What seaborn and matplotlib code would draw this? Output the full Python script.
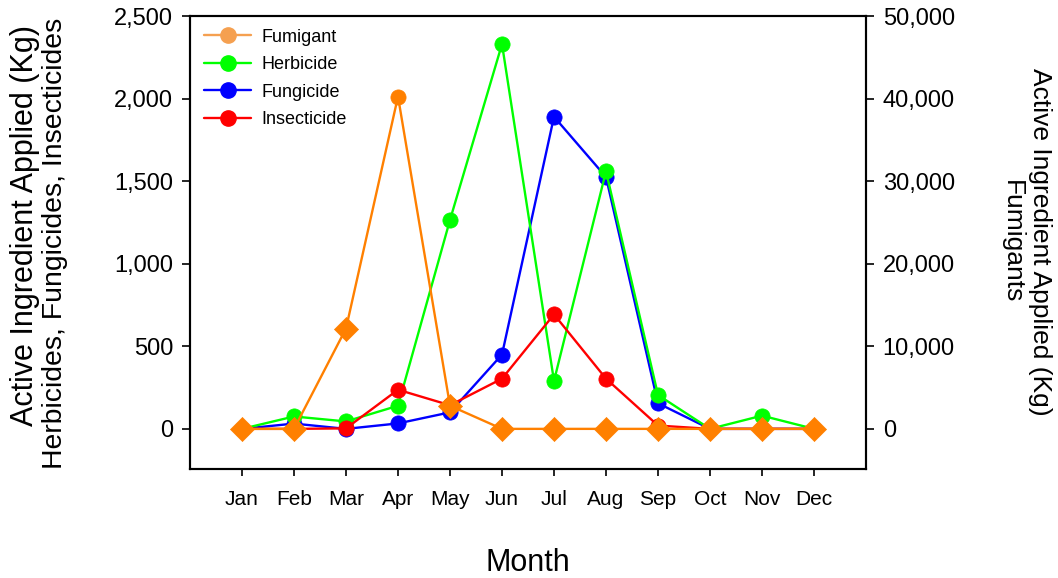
import matplotlib
matplotlib.use('Agg')
import matplotlib.pyplot as plt
import seaborn as sns
import pandas as pd
from matplotlib.lines import Line2D
from matplotlib.ticker import FuncFormatter, MultipleLocator

months = ['Jan', 'Feb', 'Mar', 'Apr', 'May', 'Jun', 'Jul', 'Aug', 'Sep', 'Oct', 'Nov', 'Dec']
herbicide = [0, 75, 45, 140, 1265, 2330, 290, 1560, 205, 0, 80, 0]
fungicide = [0, 32, 0, 33, 100, 450, 1890, 1525, 155, 0, 0, 0]
insecticide = [0, 0, 3, 237, 143, 304, 693, 304, 20, 0, 0, 0]
fumigant = [0, 0, 12150, 40250, 2800, 0, 0, 0, 0, 0, 0, 0]
fumigant_marker = ['D', 'D', 'D', 'o', 'D', 'D', 'D', 'D', 'D', 'D', 'D', 'D']

sns.set_style('ticks')
plt.rcParams['font.family'] = ['Liberation Sans', 'DejaVu Sans']
plt.rcParams['axes.linewidth'] = 1.5
plt.rcParams['text.color'] = 'black'
plt.rcParams['axes.labelcolor'] = 'black'
plt.rcParams['xtick.color'] = 'black'
plt.rcParams['ytick.color'] = 'black'

df = pd.DataFrame({'idx': range(len(months)), 'month': months,
                   'Herbicide': herbicide, 'Fungicide': fungicide,
                   'Insecticide': insecticide, 'Fumigant': fumigant,
                   'fmark': fumigant_marker})

fig = plt.figure(figsize=(10.58, 5.78), dpi=100)
ax = fig.add_axes([190/1058, 1-469/578, (866-190)/1058, (469-16)/578])
ax2 = ax.twinx()

colors = {'Fungicide': '#0000ff', 'Herbicide': '#00ff00', 'Insecticide': '#ff0000'}
for name in ['Fungicide', 'Herbicide', 'Insecticide']:
    sns.lineplot(data=df, x='idx', y=name, ax=ax, color=colors[name], linewidth=1.7,
                 marker='o', markersize=11, markeredgecolor=colors[name], markeredgewidth=0.5)

orange = '#ff8000'
sns.lineplot(data=df, x='idx', y='Fumigant', ax=ax2, color=orange, linewidth=1.7)
for mk, s in [('D', 150), ('o', 120)]:
    sub = df[df['fmark'] == mk]
    sns.scatterplot(data=sub, x='idx', y='Fumigant', ax=ax2, color=orange, marker=mk,
                    s=s, edgecolor=orange, linewidth=0.5, zorder=5)

ax.set_xlim(-1, 12)
ax.set_ylim(-243, 2500)
ax2.set_ylim(-4860, 50000)
ax.set_xticks(range(len(months)))
ax.set_xticklabels(months)
ax.yaxis.set_major_locator(MultipleLocator(500))
ax2.yaxis.set_major_locator(MultipleLocator(10000))
fmt = FuncFormatter(lambda v, p: f'{int(v):,}')
ax.yaxis.set_major_formatter(fmt)
ax2.yaxis.set_major_formatter(fmt)

ax.tick_params(axis='y', labelsize=17, length=6, width=1.2, direction='out', pad=6)
ax2.tick_params(axis='y', labelsize=17, length=6, width=1.2, direction='out', pad=6)
ax.tick_params(axis='x', labelsize=15, length=5, width=1.2, direction='out', pad=10)

ax.set_xlabel('Month', fontsize=22, labelpad=28)
ax.set_ylabel('')
ax2.set_ylabel('')

# y-axis titles (two lines each, sized individually as in the reference)
fig.text(25/1058, 1-225/578, 'Active Ingredient Applied (Kg)', rotation=90,
         ha='center', va='center', fontsize=22)
fig.text(55/1058, 1-243/578, 'Herbicides, Fungicides, Insecticides', rotation=90,
         ha='center', va='center', fontsize=20.4)
fig.text(1040/1058, 1-242/578, 'Active Ingredient Applied (Kg)', rotation=270,
         ha='center', va='center', fontsize=19)
fig.text(1012/1058, 1-242/578, 'Fumigants', rotation=270,
         ha='center', va='center', fontsize=19)

for a in (ax, ax2):
    for sp in a.spines.values():
        sp.set_visible(True)
        sp.set_linewidth(1.5)
        sp.set_color('black')

handles = [
    Line2D([], [], color='#f5a050', marker='o', markersize=11, linewidth=1.7),
    Line2D([], [], color='#00ff00', marker='o', markersize=11, linewidth=1.7),
    Line2D([], [], color='#0000ff', marker='o', markersize=11, linewidth=1.7),
    Line2D([], [], color='#ff0000', marker='o', markersize=11, linewidth=1.7),
]
labels = ['Fumigant', 'Herbicide', 'Fungicide', 'Insecticide']
ax2.legend(handles, labels, loc='upper left', bbox_to_anchor=(-0.003, 1.008), frameon=False,
           fontsize=13, handlelength=2.6, labelspacing=0.58, handletextpad=0.55)

fig.savefig('out.png', dpi=100)
